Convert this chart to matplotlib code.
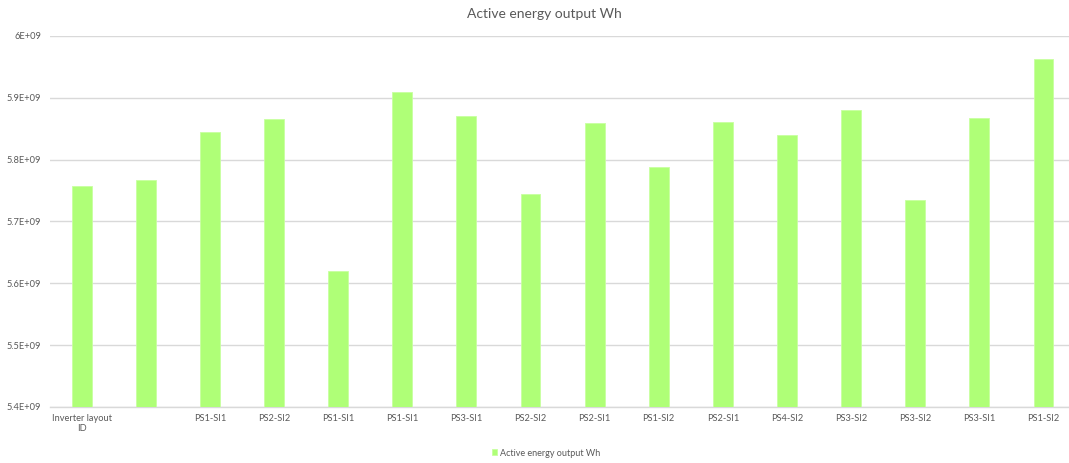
import matplotlib
matplotlib.use("Agg")
import matplotlib.pyplot as plt
import numpy as np

title = "Active energy output Wh"
series_name = "Active energy output Wh"
categories = ["Inverter layout\nID", "", "PS1-SI1", "PS2-SI2", "PS1-SI1", "PS1-SI1", "PS3-SI1",
              "PS2-SI2", "PS2-SI1", "PS1-SI2", "PS2-SI1", "PS4-SI2", "PS3-SI2", "PS3-SI2",
              "PS3-SI1", "PS1-SI2"]
values = [5.758e9, 5.767e9, 5.844e9, 5.865e9, 5.620e9, 5.910e9, 5.871e9, 5.745e9,
          5.859e9, 5.788e9, 5.861e9, 5.840e9, 5.880e9, 5.735e9, 5.867e9, 5.963e9]
yticks = [5.4e9, 5.5e9, 5.6e9, 5.7e9, 5.8e9, 5.9e9, 6.0e9]
ytick_labels = ["5.4E+09", "5.5E+09", "5.6E+09", "5.7E+09", "5.8E+09", "5.9E+09", "6E+09"]

plt.rcParams['font.family'] = ['Lato', 'DejaVu Sans']
W, H = 1069, 463
fig = plt.figure(figsize=(W / 100, H / 100), dpi=100)
left, right, top, bottom = 49.6, 1075.5, 36, 407
ax = fig.add_axes([left / W, (H - bottom) / H, (right - left) / W, (bottom - top) / H])

x = np.arange(len(categories))
bar_color = "#AFFF77"
ax.bar(x, values, width=0.31, color=bar_color, edgecolor="#C8FFA0", linewidth=0.6,
       label=series_name, zorder=3)
ax.set_xlim(-0.5, len(categories) - 0.5)
ax.set_ylim(5.4e9, 6.0e9)
ax.set_yticks(yticks)
ax.set_yticklabels(ytick_labels)
ax.set_xticks(x)
ax.set_xticklabels(categories)

txt_color = "#595959"
ax.tick_params(axis='both', length=0, labelsize=6.7, colors=txt_color)
ax.tick_params(axis='x', pad=5)
ax.tick_params(axis='y', pad=6)
ax.grid(axis='y', color="#D9D9D9", linewidth=1.0, zorder=0)
for s in ['top', 'right', 'left']:
    ax.spines[s].set_visible(False)
ax.spines['bottom'].set_color("#D9D9D9")
ax.spines['bottom'].set_linewidth(1.0)

fig.text(544 / W, 1 - 14 / H, title, ha='center', va='center', fontsize=10, color=txt_color)

leg = fig.legend(loc='center', bbox_to_anchor=(546 / W, 1 - 453 / H), frameon=False,
                 fontsize=6.5, handlelength=0.6, handleheight=0.6, handletextpad=0.3)
for t in leg.get_texts():
    t.set_color(txt_color)

fig.savefig("out.png", dpi=100, facecolor="white")
